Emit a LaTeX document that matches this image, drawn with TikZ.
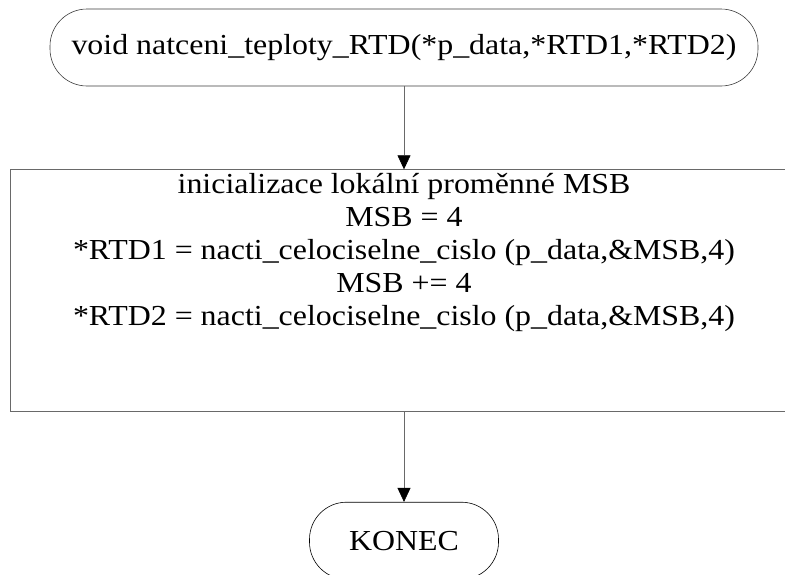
\documentclass[tikz,border=0pt]{standalone}
\usepackage{fontspec}
\setmainfont{Liberation Serif}[FakeStretch=1.1]
\usetikzlibrary{positioning,arrows.meta}
\definecolor{EdgeGray}{RGB}{105,105,105}
\definecolor{FrameDark}{RGB}{60,60,60}
\tikzset{
  flow/.style={-{Triangle[length=14pt,width=13pt,color=black]},semithick,draw=EdgeGray},
  terminal/.style={draw=FrameDark,semithick,rounded corners=37pt,minimum height=77pt,
    align=center,inner sep=0pt,font=\fontsize{29}{33}\selectfont},
  procbox/.style={draw=EdgeGray,semithick,minimum width=788pt,minimum height=242pt,
    align=center,inner sep=0pt,font=\fontsize{29}{33}\selectfont}
}

\begin{document}
\begin{tikzpicture}[x=1pt,y=-1pt]
  \useasboundingbox (0,0) rectangle (785,574);
  \node[terminal,minimum width=708pt] (start) at (404,47.5)
    {void natceni\_teploty\_RTD(*p\_data,*RTD1,*RTD2)};
  \node[procbox,below=83pt of start] (init)
    {inicializace lokální proměnné MSB\\
     MSB = 4\\
     *RTD1 = nacti\_celociselne\_cislo (p\_data,\&MSB,4)\\
     MSB += 4\\
     *RTD2 = nacti\_celociselne\_cislo (p\_data,\&MSB,4)\\[50pt]};
  \node[terminal,draw=black,minimum width=189pt,below=90pt of init] (konec) {KONEC};
  \draw[flow] (start) -- (init);
  \draw[flow] (init) -- (konec);
\end{tikzpicture}
\end{document}
